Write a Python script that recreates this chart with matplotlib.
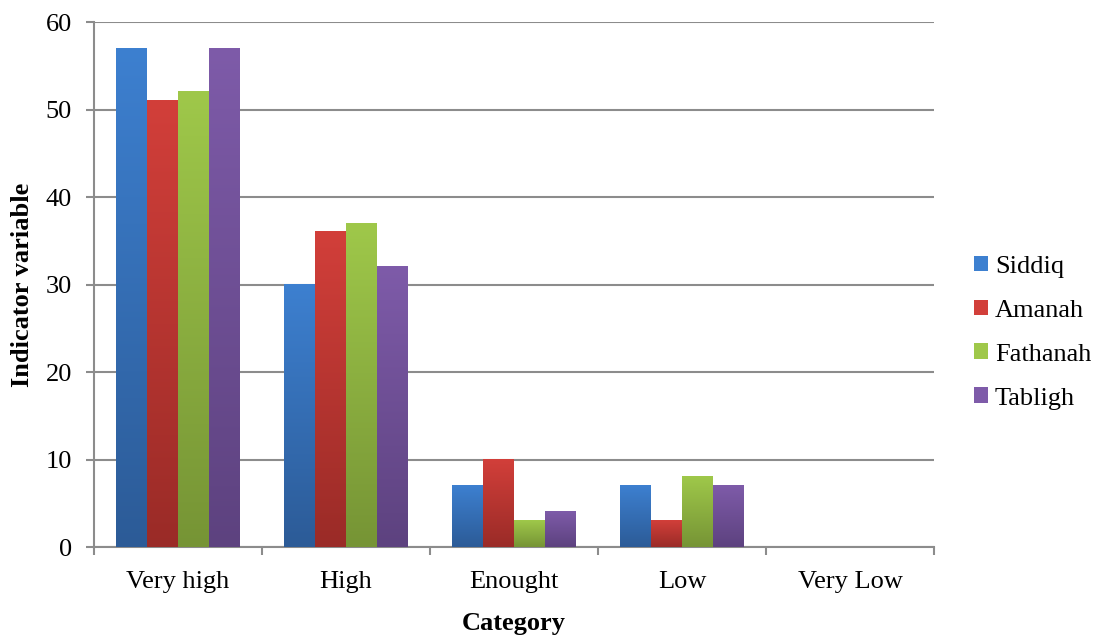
import numpy as np
import matplotlib.pyplot as plt
from matplotlib.colors import LinearSegmentedColormap
from matplotlib.patches import Patch

categories = ["Very high", "High", "Enought", "Low", "Very Low"]
series = ["Siddiq", "Amanah", "Fathanah", "Tabligh"]
siddiq = [57, 30, 7, 7, 0]
amanah = [51, 36, 10, 3, 0]
fathanah = [52, 37, 3, 8, 0]
tabligh = [57, 32, 4, 7, 0]
values = [siddiq, amanah, fathanah, tabligh]

# (top, bottom) colours for the gradient fill
shades = [("#3d80d0", "#2c5b97"),
          ("#d23f3a", "#9a2b27"),
          ("#9fc84a", "#769435"),
          ("#7e5ba9", "#5d427f")]

plt.rcParams['font.family'] = ['Liberation Serif', 'DejaVu Serif']
fs = 19

fig = plt.figure(figsize=(10.97, 6.36), dpi=100)
ax = fig.add_axes([0.0857, 0.1399, 0.7657, 0.8255])

width = 0.184
x = np.arange(len(categories))
for k, (vals, (top, bottom)) in enumerate(zip(values, shades)):
    cmap = LinearSegmentedColormap.from_list(series[k], [bottom, top])
    grad = np.linspace(0, 1, 256).reshape(-1, 1)
    for i, v in enumerate(vals):
        if v <= 0:
            continue
        x0 = x[i] - 2 * width + k * width
        ax.imshow(grad, extent=[x0, x0 + width, 0, v], origin='lower',
                  aspect='auto', cmap=cmap, zorder=3)

ax.set_xlim(-0.5, len(categories) - 0.5)
ax.set_ylim(0, 60)
ax.set_yticks(range(0, 61, 10))
ax.set_xticks(np.arange(-0.5, len(categories), 1.0))
ax.set_xticklabels([])
ax.set_xticks(x, minor=True)
ax.set_xticklabels(categories, minor=True)
ax.tick_params(axis='x', which='minor', length=0, labelsize=fs, pad=17)
ax.tick_params(axis='x', which='major', length=6, width=1.5, color='#8c8c8c')
ax.tick_params(axis='y', length=6, width=1.5, color='#8c8c8c', labelsize=fs, pad=10)

ax.grid(axis='y', color='#8c8c8c', linewidth=1.5, zorder=0)
ax.set_axisbelow(True)
for side in ['top', 'right']:
    ax.spines[side].set_visible(False)
for side in ['left', 'bottom']:
    ax.spines[side].set_color('#8c8c8c')
    ax.spines[side].set_linewidth(1.5)

ax.set_xlabel("Category", fontsize=fs, fontweight='bold', labelpad=14)
ax.set_ylabel("Indicator variable", fontsize=fs, fontweight='bold', labelpad=8)

handles = [Patch(facecolor=top, label=name) for name, (top, bottom) in zip(series, shades)]
fig.legend(handles=handles, loc='center left', bbox_to_anchor=(0.866, 0.477),
           frameon=False, fontsize=fs, handlelength=0.55, handleheight=0.55,
           handletextpad=0.25, labelspacing=0.82)

fig.savefig("out.png", dpi=100)
